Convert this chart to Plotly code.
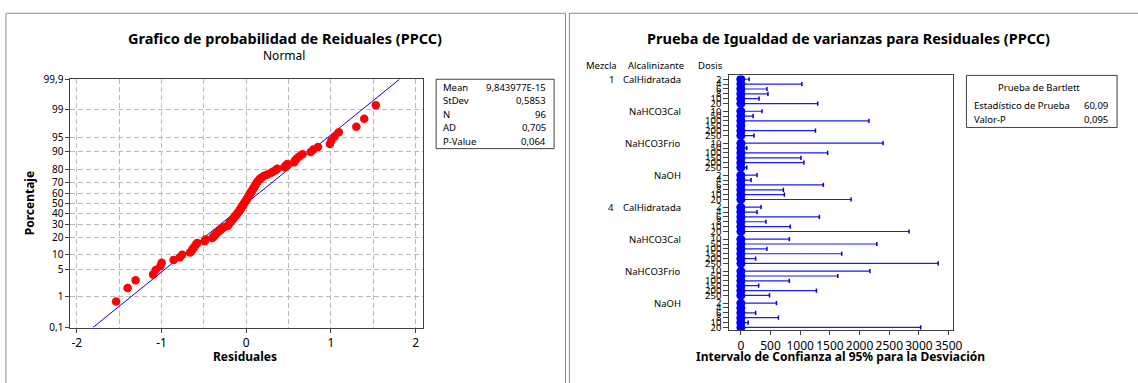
import plotly.graph_objects as go
from statistics import NormalDist

W, H = 1138, 383
FONT = "Noto Sans"

# ---------------- Left panel: normal probability plot of the residuals ----------------
residuales = [
    -1.536, -1.399, -1.306, -1.099, -1.068, -1.013, -0.998, -0.857,
    -0.783, -0.756, -0.662, -0.640, -0.625, -0.610, -0.592, -0.577,
    -0.490, -0.478, -0.400, -0.385, -0.370, -0.355, -0.340, -0.320,
    -0.300, -0.285, -0.265, -0.220, -0.210, -0.200, -0.190, -0.180,
    -0.165, -0.155, -0.145, -0.135, -0.125, -0.115, -0.105, -0.095,
    -0.085, -0.075, -0.068, -0.060, -0.052, -0.045, -0.038, -0.030,
    -0.022, -0.014, -0.006, 0.002, 0.010, 0.018, 0.025, 0.032,
    0.040, 0.048, 0.056, 0.064, 0.072, 0.080, 0.088, 0.096,
    0.104, 0.112, 0.120, 0.128, 0.140, 0.155, 0.170, 0.190,
    0.212, 0.250, 0.290, 0.315, 0.345, 0.365, 0.450, 0.465,
    0.485, 0.565, 0.577, 0.597, 0.624, 0.663, 0.761, 0.792,
    0.847, 0.987, 1.003, 1.041, 1.092, 1.299, 1.392, 1.529,
]

media = 9.843977e-15
desv_est = 0.5853
n_obs = 96
ad_stat = 0.705
p_valor = 0.064

stat_labels = ["Mean", "StDev", "N", "AD", "P-Value"]
stat_texts = ["9,843977E-15", "0,5853", "96", "0,705", "0,064"]

pct_ticks = [0.1, 1, 5, 10, 20, 30, 40, 50, 60, 70, 80, 90, 95, 99, 99.9]
pct_text = ["0,1", "1", "5", "10", "20", "30", "40", "50", "60", "70",
            "80", "90", "95", "99", "99,9"]
x_ticks = [-2, -1, 0, 1, 2]
x_text = ["-2", "-1", "0", "1", "2"]

# ---------------- Right panel: equal variances test ----------------
mezclas = ["1", "4"]
alcalinizantes = ["CalHidratada", "NaHCO3Cal", "NaHCO3Frio", "NaOH"]
dosis = {
    "CalHidratada": ["2", "4", "6", "8", "10", "20"],
    "NaHCO3Cal": ["10", "50", "100", "150", "200", "250"],
    "NaHCO3Frio": ["10", "50", "100", "150", "200", "250"],
    "NaOH": ["2", "4", "6", "8", "10", "20"],
}

ic_superior = [
    140, 1028, 440, 457, 307, 1295,
    357, 207, 2157, 40, 1257, 223,
    2395, 100, 1462, 1012, 1062, 100,
    273, 173, 1390, 717, 733, 1857,
    340, 273, 1323, 423, 833, 2833,
    817, 2290, 440, 1700, 250, 3323,
    2173, 1633, 817, 300, 1273, 483,
    600, 40, 250, 633, 123, 3028,
]
desviacion = [
    0.09, 0.67, 0.29, 0.30, 0.20, 0.84,
    0.23, 0.13, 1.40, 0.03, 0.82, 0.14,
    1.56, 0.06, 0.95, 0.66, 0.69, 0.06,
    0.18, 0.11, 0.90, 0.47, 0.48, 1.21,
    0.22, 0.18, 0.86, 0.27, 0.54, 1.84,
    0.53, 1.49, 0.29, 1.10, 0.16, 2.16,
    1.41, 1.06, 0.53, 0.19, 0.83, 0.31,
    0.39, 0.03, 0.16, 0.41, 0.08, 1.97,
]
ic_inferior = [
    0.03, 0.19, 0.08, 0.09, 0.06, 0.24,
    0.07, 0.04, 0.41, 0.01, 0.24, 0.04,
    0.45, 0.02, 0.28, 0.19, 0.20, 0.02,
    0.05, 0.03, 0.26, 0.14, 0.14, 0.35,
    0.06, 0.05, 0.25, 0.08, 0.16, 0.53,
    0.15, 0.43, 0.08, 0.32, 0.05, 0.63,
    0.41, 0.31, 0.15, 0.06, 0.24, 0.09,
    0.11, 0.01, 0.05, 0.12, 0.02, 0.57,
]
x2_ticks = [0, 500, 1000, 1500, 2000, 2500, 3000, 3500]

bartlett_labels = ["Estadístico de Prueba", "Valor-P"]
bartlett_texts = ["60,09", "0,095"]

# ---------------- helpers ----------------
def px(x):
    return x / W


def py(y):
    return 1 - y / H


nd = NormalDist()

# Median-rank plotting positions for the probability plot
orden = sorted(residuales)
z_pts = [nd.inv_cdf((i + 1 - 0.3) / (n_obs + 0.4)) for i in range(n_obs)]
z_lim = nd.inv_cdf(0.999)
z_ticks = [nd.inv_cdf(p / 100) for p in pct_ticks]

# Row positions for the variance test (6 rows per group, gap between groups)
ROW_STEP = 5.05
GROUP_STEP = 33.19
filas_pos, filas_txt, grupo_inicio = [], [], []
g = 0
for m in mezclas:
    for a in alcalinizantes:
        grupo_inicio.append((m, a, g * GROUP_STEP))
        for r, d in enumerate(dosis[a]):
            filas_pos.append(g * GROUP_STEP + r * ROW_STEP)
            filas_txt.append(d)
        g += 1

fig = go.Figure()

# fitted normal line
fig.add_trace(go.Scatter(
    x=[media + desv_est * (-z_lim), media + desv_est * z_lim],
    y=[-z_lim, z_lim], mode="lines",
    line=dict(color="#0000ff", width=1), xaxis="x", yaxis="y",
    hoverinfo="skip", showlegend=False))

# residual points
fig.add_trace(go.Scatter(
    x=orden, y=z_pts, mode="markers",
    marker=dict(color="#ff0000", size=8.5, line=dict(width=0)),
    xaxis="x", yaxis="y", hoverinfo="skip", showlegend=False))

# confidence intervals
lx, ly = [], []
for lo, hi, yy in zip(ic_inferior, ic_superior, filas_pos):
    lx += [lo, hi, None]
    ly += [yy, yy, None]
fig.add_trace(go.Scatter(
    x=lx, y=ly, mode="lines", line=dict(color="#1a1aff", width=1.2),
    xaxis="x2", yaxis="y2", hoverinfo="skip", showlegend=False))
fig.add_trace(go.Scatter(
    x=ic_superior, y=filas_pos, mode="markers",
    marker=dict(symbol="line-ns", size=3, line=dict(color="#0000cc", width=1.5)),
    xaxis="x2", yaxis="y2", hoverinfo="skip", showlegend=False))
fig.add_trace(go.Scatter(
    x=desviacion, y=filas_pos, mode="markers",
    marker=dict(color="#0000ff", size=9, line=dict(width=0)),
    xaxis="x2", yaxis="y2", hoverinfo="skip", showlegend=False))

grid = dict(showgrid=True, gridcolor="#b8b8b8", gridwidth=1, griddash="5px,3px")
frame = dict(showline=True, mirror=True, linecolor="#404040", linewidth=1,
             zeroline=False, ticks="outside", tickcolor="#404040")

fig.update_layout(
    width=W, height=H, margin=dict(l=0, r=0, t=0, b=0),
    paper_bgcolor="white", plot_bgcolor="white",
    font=dict(family=FONT, color="black", size=10),
    xaxis=dict(domain=[px(71), px(426.7)], range=[-2.075, 2.085], anchor="y",
               tickmode="array", tickvals=x_ticks, ticktext=x_text, ticklen=4,
               tickfont=dict(size=12),
               minor=dict(tickmode="linear", tick0=0, dtick=0.5, ticks="",
                          showgrid=True, gridcolor="#b8b8b8", griddash="5px,3px"),
               **grid, **frame),
    yaxis=dict(domain=[py(332.7), py(75)], range=[-z_lim, z_lim], anchor="x",
               tickmode="array", tickvals=z_ticks, ticktext=pct_text, ticklen=4,
               tickfont=dict(size=10), **grid, **frame),
    xaxis2=dict(domain=[px(735.7), px(961)], range=[-195, 3565], anchor="y2",
                tickmode="array", tickvals=x2_ticks,
                ticktext=[str(v) for v in x2_ticks], ticklen=4,
                tickfont=dict(size=12), showgrid=False, **frame),
    yaxis2=dict(domain=[py(335.7), py(71)], range=[260.7, -4], anchor="x2",
                tickmode="array", tickvals=filas_pos, ticktext=filas_txt,
                ticklen=5, tickfont=dict(size=9.5), showgrid=False, **frame),
)

ann = []


def text(x, y, s, size=10, bold=False, xanchor="center", angle=0):
    ann.append(dict(x=px(x), y=py(y), xref="paper", yref="paper", text=s,
                    showarrow=False, xanchor=xanchor, yanchor="middle",
                    textangle=angle,
                    font=dict(family=FONT, size=size, color="black",
                              weight="bold" if bold else "normal")))


# titles
text(288, 32, "Grafico de probabilidad de Reiduales (PPCC)", 14.5, True)
text(286.5, 50, "Normal", 12)
text(247, 363, "Residuales", 12, True)
text(30, 204, "Porcentaje", 12, True, angle=-90)
text(856, 32, "Prueba de Igualdad de varianzas para Residuales (PPCC)", 14.5, True)
text(847.6, 363, "Intervalo de Confianza al 95% para la Desviación", 12, True)

# stats box (left)
for i, (lab, val) in enumerate(zip(stat_labels, stat_texts)):
    yy = 83.3 + 14 * i
    text(445, yy, lab, 9.5, xanchor="left")
    text(553, yy, val, 9.5, xanchor="right")

# Bartlett box (right)
text(1048, 84, "Prueba de Bartlett", 9.5)
for i, (lab, val) in enumerate(zip(bartlett_labels, bartlett_texts)):
    yy = 102.3 + 14.4 * i
    text(981, yy, lab, 9.5, xanchor="left")
    text(1120, yy, val, 9.5, xanchor="right")

# factor headers
text(606.5, 60.5, "Mezcla", 9.5)
text(662, 60.5, "Alcalinizante", 9.5)
text(717, 60.5, "Dosis", 9.5)

for k, (m, a, pos) in enumerate(grupo_inicio):
    if k % len(alcalinizantes) == 0:
        ann.append(dict(x=px(621), y=pos, xref="paper", yref="y2", text=m,
                        showarrow=False, xanchor="right", yanchor="middle",
                        font=dict(family=FONT, size=9.5, color="black")))
    ann.append(dict(x=px(689.5), y=pos, xref="paper", yref="y2", text=a,
                    showarrow=False, xanchor="right", yanchor="middle",
                    font=dict(family=FONT, size=9.5, color="black")))

fig.update_layout(annotations=ann)

# panel frames and text boxes
shapes = [
    dict(type="rect", xref="paper", yref="paper", x0=px(6), x1=px(570.5),
         y0=py(400), y1=py(6.5), line=dict(color="#8c8c8c", width=1)),
    dict(type="rect", xref="paper", yref="paper", x0=px(574.5), x1=px(1150),
         y0=py(400), y1=py(6.5), line=dict(color="#8c8c8c", width=1)),
    dict(type="rect", xref="paper", yref="paper", x0=px(440), x1=px(559),
         y0=py(147), y1=py(75), line=dict(color="#404040", width=1)),
    dict(type="rect", xref="paper", yref="paper", x0=px(975), x1=px(1127),
         y0=py(125), y1=py(71), line=dict(color="#404040", width=1)),
]
fig.update_layout(shapes=shapes)

fig.write_html("out.html")
